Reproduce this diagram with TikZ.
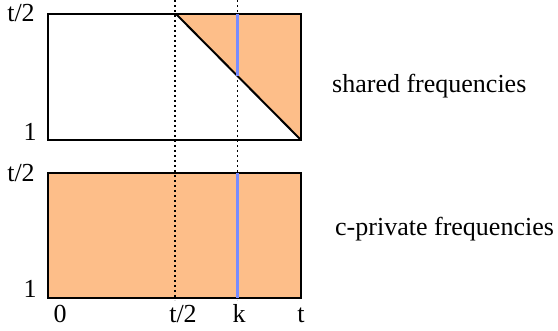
\documentclass[tikz,border=0pt]{standalone}
\usepackage{fontspec}
\setmainfont{Liberation Serif}
\definecolor{orangefill}{RGB}{253,190,137}
\definecolor{kblue}{RGB}{120,140,255}
\begin{document}
\begin{tikzpicture}[x=1pt,y=-1pt,
  boxline/.style={line width=2pt,line join=miter},
  guide/.style={line width=1.2pt,dash pattern=on 2pt off 3pt},
  kline/.style={kblue,line width=3.8pt},
  lbl/.style={font=\fontsize{26}{30}\selectfont,inner sep=0pt,anchor=base},
  side/.style={font=\fontsize{26}{30}\selectfont,inner sep=0pt,anchor=base west}]
\useasboundingbox (0,0) rectangle (558,331);
% corners
\coordinate (tl) at (48,14);
\coordinate (tr) at (301,14);
\coordinate (bl) at (48,140);
\coordinate (br) at (301,140);
\coordinate (dtop) at (176,14);
\coordinate (ktop) at (237.5,14);
\coordinate (kmid) at (237.5,76);
\coordinate (ltl) at (48,173);
\coordinate (ltr) at (301,173);
\coordinate (lbl) at (48,298);
\coordinate (lbr) at (301,298);
\coordinate (ktop2) at (237.5,173);
\coordinate (kbot2) at (237.5,298);
\coordinate (g1a) at (175,0);
\coordinate (g1b) at (175,300);
\coordinate (g2a) at (237.5,0);
\coordinate (g2b) at (237.5,300);
% fills
\fill[orangefill] (dtop) -- (tr) -- (br) -- cycle;
\fill[orangefill] (ltl) rectangle (lbr);
% guides
\draw[guide] (g1a) -- (g1b);
\draw[guide] (g2a) -- (g2b);
% boxes
\draw[boxline] (tl) rectangle (br);
\draw[boxline] (dtop) -- (br);
\draw[boxline] (ltl) rectangle (lbr);
% k lines
\draw[kline] (ktop) -- (kmid);
\draw[kline] (ktop2) -- (kbot2);
% labels
\node[lbl] (yt1) at (21,22) {t/2};
\node[lbl] (y11) at (30,141) {1};
\node[lbl] (yt2) at (21,182) {t/2};
\node[lbl] (y12) at (30,298) {1};
\node[lbl] (x0) at (60,323) {0};
\node[lbl] (xt2) at (183,323) {t/2};
\node[lbl] (xk) at (239,323) {k};
\node[lbl] (xt) at (301,323) {t};
\node[side] (shared) at (332,93) {shared frequencies};
\node[side] (priv) at (335,236) {c-private frequencies};
\end{tikzpicture}
\end{document}
